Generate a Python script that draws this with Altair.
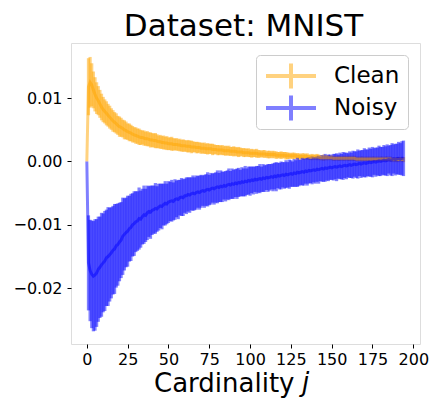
import altair as alt
import pandas as pd

series_names = ["Clean", "Noisy"]
series_colors = ["orange", "blue"]
chart_title = "Dataset: MNIST"

clean_mean = [
    0.0, 0.0118, 0.0125, 0.0121, 0.0113, 0.0106, 0.0100, 0.0096, 0.0091, 0.0086, 0.0082,
    0.0079, 0.0076, 0.0073, 0.0070, 0.0067, 0.0064, 0.0062, 0.0060, 0.0057, 0.0055,
    0.0054, 0.0052, 0.0050, 0.0049, 0.0047, 0.0046, 0.0045, 0.0043, 0.0042, 0.0041,
    0.0040, 0.0039, 0.0038, 0.0038, 0.0037, 0.0036, 0.0036, 0.0035, 0.0034, 0.0034,
    0.0033, 0.0033, 0.0032, 0.0031, 0.0031, 0.0030, 0.0030, 0.0029, 0.0029, 0.0028,
    0.0028, 0.0028, 0.0027, 0.0027, 0.0027, 0.0026, 0.0026, 0.0025, 0.0025, 0.0025,
    0.0024, 0.0024, 0.0024, 0.0023, 0.0023, 0.0023, 0.0022, 0.0022, 0.0022, 0.0021,
    0.0021, 0.0021, 0.0020, 0.0020, 0.0020, 0.0020, 0.0019, 0.0019, 0.0019, 0.0018,
    0.0018, 0.0018, 0.0018, 0.0017, 0.0017, 0.0017, 0.0017, 0.0016, 0.0016, 0.0016,
    0.0016, 0.0015, 0.0015, 0.0015, 0.0015, 0.0014, 0.0014, 0.0014, 0.0014, 0.0013,
    0.0013, 0.0013, 0.0013, 0.0013, 0.0012, 0.0012, 0.0012, 0.0012, 0.0012, 0.0011,
    0.0011, 0.0011, 0.0011, 0.0011, 0.0011, 0.0010, 0.0010, 0.0010, 0.0010, 0.0010,
    0.0010, 0.0009, 0.0009, 0.0009, 0.0009, 0.0009, 0.0009, 0.0009, 0.0008, 0.0008,
    0.0008, 0.0008, 0.0008, 0.0008, 0.0008, 0.0007, 0.0007, 0.0007, 0.0007, 0.0007,
    0.0007, 0.0007, 0.0006, 0.0006, 0.0006, 0.0006, 0.0006, 0.0006, 0.0006, 0.0006,
    0.0005, 0.0005, 0.0005, 0.0005, 0.0005, 0.0005, 0.0005, 0.0005, 0.0005, 0.0005,
    0.0005, 0.0005, 0.0005, 0.0005, 0.0004, 0.0004, 0.0004, 0.0004, 0.0004, 0.0004,
    0.0004, 0.0004, 0.0004, 0.0004, 0.0004, 0.0004, 0.0004, 0.0004, 0.0004, 0.0004,
    0.0004, 0.0004, 0.0004, 0.0004, 0.0004, 0.0004, 0.0003, 0.0003, 0.0003, 0.0003,
    0.0003, 0.0004, 0.0003, 0.0003,
]

clean_err = [
    0.0, 0.0045, 0.0040, 0.0034, 0.0029, 0.0027, 0.0025, 0.0023, 0.0022, 0.0021, 0.0020,
    0.0019, 0.0019, 0.0018, 0.0018, 0.0017, 0.0017, 0.0016, 0.0016, 0.0015, 0.0016,
    0.0015, 0.0014, 0.0015, 0.0014, 0.0013, 0.0014, 0.0013, 0.0013, 0.0012, 0.0013,
    0.0012, 0.0013, 0.0012, 0.0011, 0.0012, 0.0011, 0.0012, 0.0011, 0.0012, 0.0011,
    0.0011, 0.0012, 0.0011, 0.0010, 0.0011, 0.0010, 0.0011, 0.0010, 0.0011, 0.0010,
    0.0010, 0.0011, 0.0010, 0.0009, 0.0010, 0.0009, 0.0010, 0.0009, 0.0010, 0.0009,
    0.0009, 0.0010, 0.0009, 0.0010, 0.0009, 0.0008, 0.0009, 0.0009, 0.0008, 0.0009,
    0.0008, 0.0009, 0.0008, 0.0009, 0.0008, 0.0008, 0.0009, 0.0008, 0.0007, 0.0008,
    0.0008, 0.0007, 0.0008, 0.0007, 0.0008, 0.0007, 0.0008, 0.0007, 0.0007, 0.0008,
    0.0007, 0.0007, 0.0008, 0.0007, 0.0006, 0.0007, 0.0007, 0.0006, 0.0007, 0.0006,
    0.0007, 0.0006, 0.0006, 0.0007, 0.0006, 0.0006, 0.0005, 0.0006, 0.0006, 0.0005,
    0.0006, 0.0006, 0.0005, 0.0006, 0.0005, 0.0006, 0.0005, 0.0005, 0.0006, 0.0005,
    0.0005, 0.0006, 0.0005, 0.0005, 0.0004, 0.0005, 0.0005, 0.0004, 0.0005, 0.0005,
    0.0004, 0.0005, 0.0005, 0.0004, 0.0005, 0.0004, 0.0004, 0.0005, 0.0004, 0.0004,
    0.0005, 0.0004, 0.0004, 0.0004, 0.0005, 0.0004, 0.0004, 0.0004, 0.0003, 0.0004,
    0.0004, 0.0004, 0.0003, 0.0004, 0.0004, 0.0003, 0.0004, 0.0004, 0.0003, 0.0004,
    0.0004, 0.0003, 0.0004, 0.0004, 0.0003, 0.0004, 0.0003, 0.0004, 0.0004, 0.0003,
    0.0004, 0.0003, 0.0004, 0.0003, 0.0004, 0.0004, 0.0003, 0.0004, 0.0003, 0.0004,
    0.0004, 0.0003, 0.0004, 0.0004, 0.0003, 0.0004, 0.0004, 0.0003, 0.0004, 0.0004,
    0.0004, 0.0003, 0.0004, 0.0004,
]

noisy_mean = [
    0.0, -0.0160, -0.0172, -0.0178, -0.0181, -0.0179, -0.0176, -0.0170, -0.0167, -0.0163, -0.0160,
    -0.0157, -0.0152, -0.0150, -0.0147, -0.0144, -0.0140, -0.0138, -0.0133, -0.0131, -0.0127,
    -0.0124, -0.0118, -0.0115, -0.0112, -0.0110, -0.0106, -0.0104, -0.0100, -0.0098, -0.0095,
    -0.0094, -0.0090, -0.0091, -0.0087, -0.0084, -0.0085, -0.0081, -0.0079, -0.0080, -0.0077,
    -0.0076, -0.0074, -0.0075, -0.0072, -0.0070, -0.0071, -0.0068, -0.0066, -0.0067, -0.0064,
    -0.0063, -0.0062, -0.0063, -0.0060, -0.0059, -0.0060, -0.0057, -0.0056, -0.0057, -0.0054,
    -0.0054, -0.0052, -0.0053, -0.0051, -0.0050, -0.0051, -0.0049, -0.0048, -0.0049, -0.0047,
    -0.0046, -0.0047, -0.0045, -0.0044, -0.0045, -0.0043, -0.0042, -0.0043, -0.0041, -0.0040,
    -0.0041, -0.0039, -0.0040, -0.0038, -0.0039, -0.0037, -0.0036, -0.0037, -0.0035, -0.0036,
    -0.0034, -0.0035, -0.0033, -0.0034, -0.0032, -0.0033, -0.0031, -0.0032, -0.0030, -0.0031,
    -0.0029, -0.0030, -0.0028, -0.0029, -0.0028, -0.0027, -0.0028, -0.0026, -0.0027, -0.0025,
    -0.0026, -0.0025, -0.0024, -0.0025, -0.0023, -0.0024, -0.0022, -0.0023, -0.0022, -0.0021,
    -0.0022, -0.0020, -0.0021, -0.0020, -0.0019, -0.0020, -0.0018, -0.0019, -0.0017, -0.0018,
    -0.0017, -0.0016, -0.0017, -0.0015, -0.0016, -0.0014, -0.0015, -0.0014, -0.0013, -0.0014,
    -0.0012, -0.0013, -0.0012, -0.0011, -0.0012, -0.0010, -0.0011, -0.0010, -0.0009, -0.0010,
    -0.0009, -0.0008, -0.0009, -0.0008, -0.0007, -0.0008, -0.0007, -0.0006, -0.0007, -0.0006,
    -0.0005, -0.0006, -0.0005, -0.0004, -0.0005, -0.0004, -0.0003, -0.0004, -0.0003, -0.0002,
    -0.0003, -0.0002, -0.0001, -0.0002, -0.0001, 0.0000, -0.0001, 0.0000, 0.0001, 0.0000,
    0.0001, 0.0002, 0.0001, 0.0002, 0.0003, 0.0002, 0.0003, 0.0004, 0.0003, 0.0004,
    0.0005, 0.0004, 0.0005, 0.0005,
]

noisy_err = [
    0.0, 0.0075, 0.0080, 0.0085, 0.0087, 0.0088, 0.0085, 0.0083, 0.0080, 0.0082, 0.0078,
    0.0079, 0.0076, 0.0078, 0.0074, 0.0072, 0.0070, 0.0071, 0.0066, 0.0065, 0.0062,
    0.0060, 0.0061, 0.0057, 0.0055, 0.0056, 0.0052, 0.0053, 0.0050, 0.0051, 0.0048,
    0.0047, 0.0049, 0.0045, 0.0044, 0.0046, 0.0042, 0.0043, 0.0040, 0.0042, 0.0039,
    0.0038, 0.0040, 0.0036, 0.0037, 0.0035, 0.0036, 0.0033, 0.0035, 0.0032, 0.0033,
    0.0031, 0.0033, 0.0030, 0.0032, 0.0029, 0.0031, 0.0028, 0.0030, 0.0029, 0.0027,
    0.0029, 0.0027, 0.0028, 0.0026, 0.0028, 0.0026, 0.0027, 0.0025, 0.0027, 0.0026,
    0.0024, 0.0026, 0.0025, 0.0027, 0.0024, 0.0025, 0.0023, 0.0025, 0.0024, 0.0026,
    0.0023, 0.0025, 0.0024, 0.0022, 0.0024, 0.0023, 0.0025, 0.0022, 0.0024, 0.0023,
    0.0022, 0.0024, 0.0023, 0.0021, 0.0023, 0.0022, 0.0024, 0.0021, 0.0022, 0.0023,
    0.0021, 0.0022, 0.0020, 0.0022, 0.0021, 0.0023, 0.0020, 0.0022, 0.0021, 0.0020,
    0.0022, 0.0021, 0.0020, 0.0022, 0.0021, 0.0023, 0.0020, 0.0021, 0.0022, 0.0020,
    0.0021, 0.0022, 0.0020, 0.0023, 0.0021, 0.0020, 0.0022, 0.0021, 0.0023, 0.0021,
    0.0020, 0.0022, 0.0021, 0.0020, 0.0022, 0.0021, 0.0019, 0.0022, 0.0020, 0.0021,
    0.0020, 0.0022, 0.0019, 0.0021, 0.0020, 0.0022, 0.0019, 0.0021, 0.0020, 0.0019,
    0.0021, 0.0020, 0.0022, 0.0019, 0.0021, 0.0020, 0.0022, 0.0020, 0.0021, 0.0019,
    0.0021, 0.0020, 0.0022, 0.0020, 0.0021, 0.0023, 0.0020, 0.0022, 0.0021, 0.0023,
    0.0022, 0.0021, 0.0023, 0.0022, 0.0024, 0.0021, 0.0023, 0.0022, 0.0024, 0.0023,
    0.0022, 0.0024, 0.0023, 0.0025, 0.0022, 0.0024, 0.0026, 0.0023, 0.0025, 0.0024,
    0.0026, 0.0025, 0.0027, 0.0028,
]

x_ticks = [0, 25, 50, 75, 100, 125, 150, 175, 200]
y_ticks = [-0.02, -0.01, 0.0, 0.01]

rows = []
for name, means, errs in [("Clean", clean_mean, clean_err), ("Noisy", noisy_mean, noisy_err)]:
    for j, (m, e) in enumerate(zip(means, errs)):
        rows.append({"j": j, "mean": m, "lo": m - e, "hi": m + e, "series": name})
df = pd.DataFrame(rows)

FONT = "DejaVu Sans"
W, H = 349, 301

x_scale = alt.Scale(domain=[-9.7, 204.1], nice=False, zero=False)
y_scale = alt.Scale(domain=[-0.0288, 0.0187], nice=False, zero=False)

color = alt.Color(
    "series:N",
    scale=alt.Scale(domain=series_names, range=series_colors),
    legend=alt.Legend(
        title=None,
        orient="top-right",
        offset=12,
        symbolType="M-1,0H1M0,-0.5V0.5",
        symbolSize=2500,
        symbolStrokeWidth=4,
        symbolOpacity=0.5,
        symbolFillColor="transparent",
        clipHeight=26,
        labelFontSize=23,
        labelFont=FONT,
        labelColor="black",
        labelOffset=16,
        padding=8,
        rowPadding=6,
        strokeColor="#cccccc",
        fillColor="white",
        cornerRadius=4,
    ),
)

x_enc = alt.X(
    "j:Q",
    scale=x_scale,
    axis=alt.Axis(
        values=x_ticks,
        title="Cardinality",
        titleFontSize=26,
        titleFont=FONT,
        titleFontWeight="normal",
        titleColor="black",
        titleAlign="right",
        titleAnchor="start",
        titleX=223,
        titleY=47,
        titleBaseline="alphabetic",
        labelFontSize=16,
        labelFont=FONT,
        labelColor="black",
        tickSize=4,
        tickColor="black",
        labelPadding=3,
        grid=False,
        domain=False,
    ),
)
y_axis = alt.Axis(
    values=y_ticks,
    format=".2f",
    title=None,
    labelFontSize=16,
    labelFont=FONT,
    labelColor="black",
    tickSize=4,
    tickColor="black",
    labelPadding=5,
    grid=False,
    domain=False,
)

bars = alt.Chart(df).mark_rule(strokeWidth=3.2, opacity=0.5).encode(
    x=x_enc,
    y=alt.Y("lo:Q", scale=y_scale, axis=y_axis),
    y2="hi:Q",
    color=color,
)

lines = alt.Chart(df).mark_line(strokeWidth=3, opacity=0.5).encode(
    x=alt.X("j:Q", scale=x_scale),
    y=alt.Y("mean:Q", scale=y_scale),
    color=alt.Color("series:N", scale=alt.Scale(domain=series_names, range=series_colors), legend=None),
)

j_label = alt.Chart(pd.DataFrame({"t": ["j"]})).mark_text(
    font=FONT, fontSize=26, fontStyle="italic", align="left", baseline="alphabetic", color="black"
).encode(text="t:N", x=alt.value(231), y=alt.value(348))

title_label = alt.Chart(pd.DataFrame({"t": [chart_title]})).mark_text(
    font=FONT, fontSize=31, align="center", baseline="alphabetic", color="black"
).encode(text="t:N", x=alt.value(W / 2 - 2), y=alt.value(-7))

chart = (
    alt.layer(bars, lines, j_label, title_label)
    .properties(
        width=W,
        height=H,
        padding={"left": 71, "top": 43, "right": 12, "bottom": 54},
        autosize=alt.AutoSizeParams(type="none"),
    )
    .configure_view(stroke="#333333", strokeWidth=1.2)
    .configure(background="white")
)

chart.save("out.html", embed_options={"renderer": "svg", "actions": False})
